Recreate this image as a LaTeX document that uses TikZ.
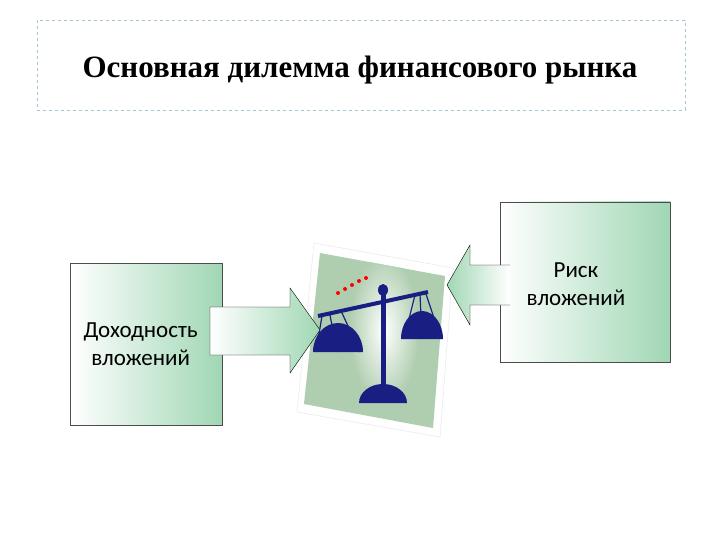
\documentclass[tikz,border=0pt]{standalone}
\usepackage{fontspec}
\setmainfont{Liberation Serif}
\newfontfamily\carlitofont{Carlito}
\definecolor{gr}{RGB}{160,215,180}
\definecolor{pic}{RGB}{175,205,175}
\definecolor{navy}{RGB}{25,30,130}
\tikzset{box/.style={draw=black!70,left color=white,right color=gr},
 arr/.style={draw=black,left color=white,right color=gr,line join=miter},
 arrR/.style={draw=black,left color=gr,right color=white,line join=miter},
 lbl/.style={font=\carlitofont\fontsize{23}{28}\selectfont,align=center}}
\begin{document}
\begin{tikzpicture}[x=1pt,y=-1pt]
\useasboundingbox[fill=white] (0,0) rectangle (720,540);
\node[draw=cyan!40!gray!60,dashed,minimum width=648,minimum height=90] (title) at (361,65) {};
\node[font=\bfseries\fontsize{31}{36}\selectfont] (tt) at (360,70) {Основная дилемма финансового рынка};
\node[box,minimum width=152,minimum height=162] (L) at (146,344) {};
\node[lbl,anchor=west] (Lt) at (80,344) {Доходность\\вложений};
\node[box,minimum width=170,minimum height=160] (R) at (585,282) {};
\node[lbl] (Rt) at (576,284) {Риск\\вложений};
% picture
\draw[white!80!gray,fill=white] (314,243)--(453,268)--(440,437)--(297,412)--cycle;
\fill[pic] (320,253)--(445,276)--(433,428)--(304,404)--cycle;
\begin{scope}
\clip (320,253)--(445,276)--(433,428)--(304,404)--cycle;
\shade[inner color=white,outer color=pic] (384,330) ellipse (35 and 75);
\end{scope}
\draw[white,line width=1pt] (309,250)--(449,274)--(436,432)--(301,408)--cycle;
\fill[red] (338,293) circle (2) (345,289) circle (2) (352,285) circle (2) (359,281) circle (2) (366,278) circle (2);
\fill[navy] (383,290) ellipse (5 and 6);
\fill[navy] (381,292) rectangle (386,385);
\fill[navy] (359,403) arc (180:360:24 and 19) -- cycle;
\draw[navy,line width=4pt] (318,316)--(428,292);
\draw[navy,line width=1.2pt] (322,316)--(316,352) (330,315)--(337,352) (342,313)--(360,352);
\draw[navy,line width=1.2pt] (415,295)--(404,339) (420,294)--(422,339) (426,294)--(441,339);
\fill[navy] (313,352) arc (180:360:25 and 29) -- cycle;
\fill[navy] (401,339) arc (180:360:21 and 28) -- cycle;
% arrows
\draw[arr] (210,307)--(290,307)--(290,288)--(320,330)--(290,373)--(290,355)--(210,355)--cycle;
\draw[arrR] (510,265)--(470,265)--(470,245)--(447,285)--(470,325)--(470,305)--(510,305);
\end{tikzpicture}
\end{document}
